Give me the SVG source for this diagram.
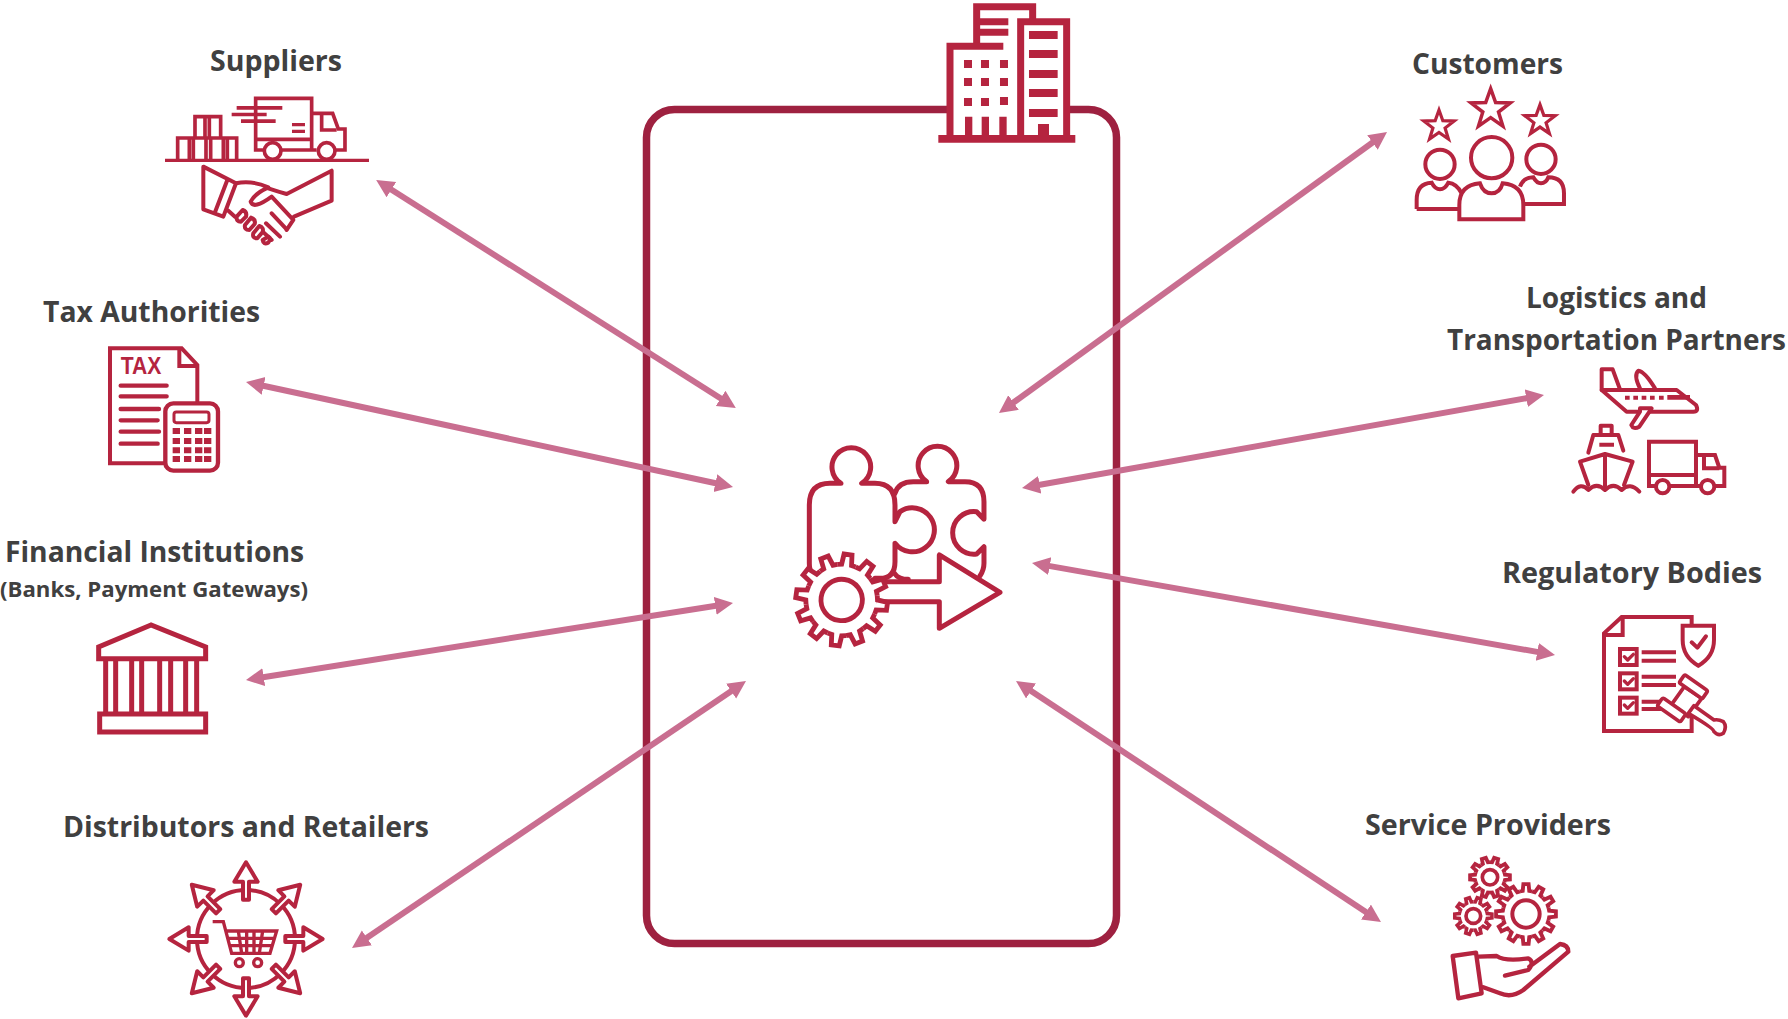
<svg xmlns="http://www.w3.org/2000/svg" xmlns:xlink="http://www.w3.org/1999/xlink" width="1788" height="1019" viewBox="0 0 1788 1019">
<style>
.lb{font-family:"Open Sans","Liberation Sans",sans-serif;font-weight:700;fill:#404040;font-size:28px}
.i{fill:none;stroke:#B5243F;stroke-linejoin:miter;stroke-linecap:butt}
.r{stroke-linejoin:round;stroke-linecap:round}
.w{fill:#fff}
.f{fill:#B5243F;stroke:none}
.c{stroke:#C96E90;stroke-width:6;fill:none;marker-start:url(#ah);marker-end:url(#ah)}
.tx{font-family:"Liberation Sans",Arial,sans-serif;fill:#B5243F;font-size:70px;font-weight:700}
</style>
<defs>
<marker id="ah" markerUnits="userSpaceOnUse" markerWidth="20" markerHeight="20" refX="4" refY="9" orient="auto-start-reverse"><path d="M0,0 L18,9 L0,18 Z" fill="#C96E90"/></marker>
<path id="t12" class="w" d="M75.3,-20.2 L77.2,-10.9 L99.6,-8.7 V8.7 L77.2,10.9 L75.3,20.2"/>
<path id="t10" class="w" d="M72.3,-23.5 L74.8,-13.2 L99.5,-10.5 V10.5 L74.8,13.2 L72.3,23.5"/>
<g id="gear12"><circle r="76" fill="#fff" stroke="none"/>
<use xlink:href="#t12"/><use xlink:href="#t12" transform="rotate(30)"/><use xlink:href="#t12" transform="rotate(60)"/><use xlink:href="#t12" transform="rotate(90)"/><use xlink:href="#t12" transform="rotate(120)"/><use xlink:href="#t12" transform="rotate(150)"/><use xlink:href="#t12" transform="rotate(180)"/><use xlink:href="#t12" transform="rotate(210)"/><use xlink:href="#t12" transform="rotate(240)"/><use xlink:href="#t12" transform="rotate(270)"/><use xlink:href="#t12" transform="rotate(300)"/><use xlink:href="#t12" transform="rotate(330)"/></g>
<g id="gear10"><circle r="74" fill="#fff" stroke="none"/>
<use xlink:href="#t10"/><use xlink:href="#t10" transform="rotate(36)"/><use xlink:href="#t10" transform="rotate(72)"/><use xlink:href="#t10" transform="rotate(108)"/><use xlink:href="#t10" transform="rotate(144)"/><use xlink:href="#t10" transform="rotate(180)"/><use xlink:href="#t10" transform="rotate(216)"/><use xlink:href="#t10" transform="rotate(252)"/><use xlink:href="#t10" transform="rotate(288)"/><use xlink:href="#t10" transform="rotate(324)"/></g>
<polygon id="star" points="0,-100 24,-33 95,-31 38,13 59,81 0,40 -59,81 -38,13 -95,-31 -24,-33"/>
<path id="oa" class="w" d="M-9,-118 V-172 H-35 L0,-230 L35,-172 H9 V-118 Z"/>
</defs>
<rect width="1788" height="1019" fill="#fff"/>

<g id="system-boundary"><rect x="646.500" y="109.500" width="470" height="834" rx="28" fill="none" stroke="#9E2140" stroke-width="7.500"/></g>

<g id="connectors">
<line class="c" x1="388" y1="187.500" x2="724" y2="400.500"/>
<line class="c" x1="259.700" y1="385" x2="719.300" y2="484"/>
<line class="c" x1="259.800" y1="677.800" x2="719.200" y2="605.200"/>
<line class="c" x1="363.600" y1="940.100" x2="734.400" y2="688.900"/>
<line class="c" x1="1375.700" y1="140.200" x2="1010.300" y2="404.800"/>
<line class="c" x1="1530.200" y1="397.500" x2="1035.800" y2="485.500"/>
<line class="c" x1="1045.800" y1="565.400" x2="1541.200" y2="652.600"/>
<line class="c" x1="1027.700" y1="688.700" x2="1369.300" y2="914.300"/>
</g>

<g id="building" transform="translate(920,0) scale(.3333)">
<rect x="90" y="140" width="350" height="270" fill="#fff"/>
<g class="i" stroke-width="21">
<path d="M170,130 V20 H338 V60"/><path d="M170,65 H265 M170,97 H265"/>
<path d="M90,405 V139 H250"/><path d="M302,405 V65 H440 V405"/>
</g>
<path class="f" d="M327,93h86v24h-86z M327,150h86v24h-86z M327,210h86v24h-86z M327,267h86v24h-86z M327,327h86v24h-86z M132,180h24v24h-24z M183,180h24v24h-24z M240,180h24v24h-24z M132,234h24v24h-24z M183,234h24v24h-24z M240,234h24v24h-24z M132,294h24v24h-24z M183,294h24v24h-24z M240,291h24v24h-24z M135,350h22v60h-22z M185,350h22v60h-22z M238,350h22v60h-22z M354,372h33v36h-33z M55,405h411v23h-411z"/>
</g>

<g id="suppliers">
<text class="lb" x="210" y="71" textLength="132" lengthAdjust="spacingAndGlyphs">Suppliers</text>
<g transform="translate(140,20) scale(.3333)">
<g class="i" stroke-width="11">
<path d="M113,418 V354 H290 V418 M148,354 V418 M160,354 V418 M198,354 V418 M212,354 V418 M250,354 V418 M262,354 V418"/>
<path d="M165,352 V290 H242 V352 M195,290 V352 M208,290 V352"/>
<path d="M372,390 H347 V235 H515 V390 H425 M515,280 H578 L595,327 H615 V390 H588 M515,358 H347 M530,390 H515"/>
<path d="M545,285 V330 H590"/>
<circle cx="398" cy="393" r="25" class="w"/><circle cx="560" cy="393" r="25" class="w"/>
</g>
<path class="f" d="M290,258h137v11h-137z M275,278h105v11h-105z M303,298h104v11h-104z M456,309h39v10h-39z M456,329h39v10h-39z M75,416h612v10h-612z"/>
<g class="i r" stroke-width="12">
<path d="M190,440 L288,490 L250,590 L190,568 Z M262,480 L225,577"/>
<path d="M288,490 Q335,480 385,502 Q345,520 332,545 Q340,570 395,530 L460,600 L440,630 M385,505 Q415,515 440,522 L575,452 V542 L462,590"/>
<path d="M265,572 L285,590 M395,580 L440,628 M378,610 L420,650 M365,632 L395,660"/>
<path class="w" d="M290,590 L308,570 Q322,575 318,590 L303,605 Q288,605 290,590 Z M315,615 L333,593 Q348,598 344,612 L328,630 Q312,630 315,615 Z M340,640 L358,618 Q372,622 368,636 L352,655 Q336,655 340,640 Z M368,660 L385,650 Q395,655 385,668 Q370,675 368,660 Z"/>
</g>
</g>
</g>

<g id="tax-authorities">
<text class="lb" x="43" y="322" textLength="217" lengthAdjust="spacingAndGlyphs">Tax Authorities</text>
<g transform="translate(90,330) scale(.3333)">
<g class="i" stroke-width="12">
<path d="M322,220 V105 L275,55 H60 V400 H225"/><path d="M268,58 V108 H325"/>
</g>
<text class="tx" x="92" y="133" textLength="122" lengthAdjust="spacingAndGlyphs">TAX</text>
<g class="i r" stroke-width="13"><path d="M92,167 H230 M92,199 H230 M92,237 H207 M92,271 H203 M92,305 H207 M92,341 H203"/></g>
<rect class="i w" stroke-width="13" x="226" y="220" width="158" height="202" rx="24"/>
<rect class="i" stroke-width="9" x="252" y="246" width="105" height="32" rx="7"/>
<path class="f" d="M248,294h22v18h-22z M282,294h22v18h-22z M315,294h22v18h-22z M342,294h22v18h-22z M248,324h22v18h-22z M282,324h22v18h-22z M315,324h22v18h-22z M342,324h22v18h-22z M248,352h22v18h-22z M282,352h22v18h-22z M315,352h22v18h-22z M342,352h22v18h-22z M248,378h22v18h-22z M282,378h22v18h-22z M315,378h22v18h-22z M342,378h22v18h-22z"/>
</g>
</g>

<g id="financial-institutions">
<text class="lb" x="5" y="562" textLength="299" lengthAdjust="spacingAndGlyphs">Financial Institutions</text>
<text class="lb" x="0" y="597" style="font-size:22px" textLength="308" lengthAdjust="spacingAndGlyphs">(Banks, Payment Gateways)</text>
<g transform="translate(85,615) scale(.3333)">
<g class="i" stroke-width="15">
<path d="M198,30 L41,96 V131 H362 V96 Z"/>
<rect x="44" y="297" width="318" height="54"/>
<path d="M62,133 V295 M92,133 V295 M140,133 V295 M170,133 V295 M224,133 V295 M257,133 V295 M302,133 V295 M335,133 V295"/>
</g>
</g>
</g>

<g id="distributors-retailers">
<text class="lb" x="63" y="837" textLength="366" lengthAdjust="spacingAndGlyphs">Distributors and Retailers</text>
<g transform="translate(160,855) scale(.3333)">
<circle cx="258" cy="252" r="147" class="i" stroke-width="12"/>
<g class="i r" stroke-width="12" transform="translate(258,252)">
<use xlink:href="#oa"/><use xlink:href="#oa" transform="rotate(45)"/><use xlink:href="#oa" transform="rotate(90)"/><use xlink:href="#oa" transform="rotate(135)"/><use xlink:href="#oa" transform="rotate(180)"/><use xlink:href="#oa" transform="rotate(225)"/><use xlink:href="#oa" transform="rotate(270)"/><use xlink:href="#oa" transform="rotate(315)"/>
</g>
<g class="i" stroke-width="10">
<path d="M158,200 H190 L215,295 H330 L350,228 H198 M205,250 H344 M212,272 H338 M235,228 L245,295 M260,228 V295 M282,228 V295 M308,228 L298,295"/>
<circle cx="238" cy="323" r="12"/><circle cx="293" cy="323" r="12"/>
</g>
</g>
</g>

<g id="process">
<g transform="translate(780,430) scale(.3333)">
<g class="i r" stroke-width="15">
<path d="M345,190 Q355,155 400,155 H440 A58,58 0 1 1 505,155 H555 Q612,155 612,215 V268 L590,245 A64,64 0 1 0 590,372 L612,350 V400 Q612,420 600,438 M345,432 Q355,448 385,448"/>
<path class="w" d="M95,430 Q88,420 88,400 V225 Q88,160 150,160 H183 A58,58 0 1 1 245,160 H285 Q345,160 345,225 V275 L360,245 A66,66 0 1 1 345,340 V395 Q345,445 300,445 H285"/>
<path class="w" d="M290,515 H478 V595 L660,487 L478,375 V455 H280"/>
</g>
<g class="i" transform="translate(185,510) rotate(8) scale(1.38)" stroke-width="10.500"><use xlink:href="#gear12"/><circle r="45" class="w"/></g>
</g>
</g>

<g id="customers">
<text class="lb" x="1412" y="74" textLength="151" lengthAdjust="spacingAndGlyphs">Customers</text>
<g transform="translate(1400,80) scale(.3333)">
<g class="i"><use xlink:href="#star" transform="translate(272,88) scale(.62)" stroke-width="17"/><use xlink:href="#star" transform="translate(117,138) scale(.48)" stroke-width="20"/><use xlink:href="#star" transform="translate(420,122) scale(.48)" stroke-width="20"/></g>
<g class="i" stroke-width="12">
<circle cx="120" cy="253" r="44"/><circle cx="423" cy="238" r="44"/>
<path d="M50,387 V360 Q50,310 95,308 Q105,328 120,328 Q135,328 145,308 Q170,310 185,340 M50,387 H178"/>
<path d="M360,320 Q370,292 400,292 Q410,310 423,310 Q438,310 445,292 Q492,292 492,340 V372 H370"/>
<circle cx="275" cy="233" r="62"/>
<path class="w" d="M178,418 V375 Q178,315 240,310 Q250,340 275,340 Q300,340 308,310 Q370,315 370,375 V418 Z"/>
</g>
</g>
</g>

<g id="logistics">
<text class="lb" x="1526" y="308" textLength="181" lengthAdjust="spacingAndGlyphs">Logistics and</text>
<text class="lb" x="1447" y="350" textLength="339" lengthAdjust="spacingAndGlyphs">Transportation Partners</text>
<g transform="translate(1560,360) scale(.3333)">
<g class="i r" stroke-width="12">
<path d="M125,90 V28 H158 L180,88"/>
<path d="M125,90 H350 L408,135 Q418,155 400,155 H200 Z"/>
<path d="M240,85 Q220,45 235,32 Q255,35 285,85"/>
<path class="w" d="M240,155 L214,195 Q220,210 238,200 L275,145 L240,145 Z"/>
<path d="M122,225 V197 H155 V225 M85,278 L100,225 H175 L190,272"/>
<path d="M60,305 L135,282 L218,305 L192,375 M60,305 L85,375 M135,282 V378"/>
<path d="M40,395 Q62,365 85,390 Q110,365 135,390 Q160,365 185,390 Q210,365 238,395"/>
</g>
<path class="f" d="M195,107h14v12h-14z M220,107h14v12h-14z M245,107h14v12h-14z M270,107h14v12h-14z M297,107h14v12h-14z M322,105h68v14h-68z M118,248h44v12h-44z"/>
<g class="i" stroke-width="12">
<path d="M285,378 H267 V245 H408 V378 H330 M267,345 H408 M408,285 H465 L478,323 H493 V378 H465 M408,378 H420 M432,285 V325 H478"/>
<circle cx="308" cy="380" r="20"/><circle cx="443" cy="380" r="20"/>
</g>
</g>
</g>

<g id="regulatory">
<text class="lb" x="1502" y="583" textLength="260" lengthAdjust="spacingAndGlyphs">Regulatory Bodies</text>
<g transform="translate(1590,605) scale(.3333)">
<g class="i" stroke-width="12">
<path d="M305,60 V36 H95 L42,85 V378 H305 V325"/><path d="M98,40 V90 H42"/>
<rect x="90" y="132" width="50" height="48"/><rect x="90" y="205" width="50" height="48"/><rect x="90" y="278" width="50" height="48"/>
<path d="M155,142 H258 M155,167 H258 M155,215 H258 M155,240 H258 M155,290 H215 M155,312 H215"/>
</g>
<g class="i r" stroke-width="10"><path d="M103,155 L113,165 L130,148 M103,228 L113,238 L130,221 M103,300 L113,310 L130,293"/></g>
<path class="i w" stroke-width="12" d="M278,62 H372 V105 Q372,155 325,182 Q278,155 278,105 Z"/>
<path class="i r" stroke-width="12" d="M305,112 L322,128 L348,94"/>
<g class="i r w" stroke-width="11">
<path class="w" d="M283,245 L335,280 L295,335 L245,298 Z"/>
<rect x="268" y="230" width="85" height="30" rx="6" transform="rotate(35 310 245)"/>
<rect x="202" y="300" width="85" height="30" rx="6" transform="rotate(35 245 315)"/>
<path class="w" d="M312,302 L372,345 Q385,342 400,350 Q412,365 400,385 Q385,395 372,380 Q372,370 295,325 Z"/>
</g>
</g>
</g>

<g id="service-providers">
<text class="lb" x="1365" y="835" textLength="246" lengthAdjust="spacingAndGlyphs">Service Providers</text>
<g transform="translate(1440,850) scale(.3333)">
<g class="i" stroke-width="12">
<use xlink:href="#gear10" transform="translate(150,82) scale(.6)" stroke-width="19"/><circle cx="150" cy="82" r="23" stroke-width="11"/>
<use xlink:href="#gear10" transform="translate(100,198) scale(.56)" stroke-width="19"/><circle cx="100" cy="198" r="22" stroke-width="11"/>
<use xlink:href="#gear12" transform="translate(258,192) scale(.9)" stroke-width="13"/><circle cx="258" cy="192" r="41"/>
</g>
<g class="i r" stroke-width="13">
<path d="M38,318 L108,308 L125,430 L55,445 Z"/>
<path d="M116,320 L170,318 Q195,335 265,325 Q285,335 265,360 L195,377 M268,350 L360,282 Q385,285 385,305 L250,420 Q215,445 180,430 L130,412"/>
</g>
</g>
</g>
</svg>
